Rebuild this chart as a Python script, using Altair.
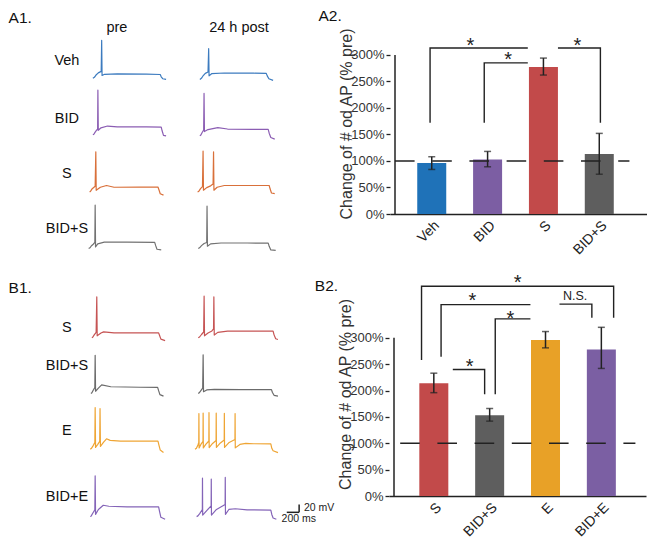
import altair as alt
import pandas as pd

FONT = "Liberation Sans"
INK = "#222222"

# ---------------- bar panels ----------------
A2_CATS = ["Veh", "BID", "S", "BID+S"]
A2_MEAN = [96, 103, 277, 113]
A2_LO = [84, 89, 262, 75]
A2_HI = [108, 118, 294, 152]
A2_COLORS = ["#1f72b8", "#7c5ea3", "#c24a4a", "#5e5e5e"]
A2_BRACKET_X = [[0.97, 0.97, 2.72], [1.94, 1.94, 2.72], [3.26, 4.02, 4.02]]
A2_BRACKET_Y = [[172, 313, 313], [172, 285, 285], [313, 313, 172]]
A2_STAR_X = [1.69, 2.37, 3.61]
A2_STAR_Y = [326, 298, 326]
A2_DASH = [0.342, 4.54]

B2_CATS = ["S", "BID+S", "E", "BID+E"]
B2_MEAN = [214, 153, 296, 278]
B2_LO = [196, 142, 281, 242]
B2_HI = [233, 166, 312, 320]
B2_COLORS = ["#c24a4a", "#5e5e5e", "#e8a127", "#7b5fa3"]
B2_BRACKET_X = [[0.78, 0.78, 4.22, 4.22], [1.13, 1.13, 2.73], [2.10, 2.10, 2.73],
                [1.34, 1.91, 1.91], [3.25, 3.83, 3.83]]
B2_BRACKET_Y = [[258, 398, 398, 338], [264, 363, 363], [193, 336, 336],
                [240, 240, 193], [364, 364, 338]]
B2_STAR_X = [2.50, 1.69, 2.37, 1.64]
B2_STAR_Y = [413, 379, 344, 253]
B2_NS_X = [3.53]
B2_NS_Y = [380]
B2_NS_TEXT = ["N.S."]
B2_DASH = [0.398, 4.61]

Y_TICKS = [0, 50, 100, 150, 200, 250, 300]
REF_LEVEL = 100

# ---------------- voltage traces (ms, mV) ----------------
veh_pre_t = [75, 98, 120, 158, 203, 210, 216, 255, 450, 900, 1110, 1125, 1148, 1200]
veh_pre_v = [-69.3, -68, -65.2, -61.8, -59.7, -16.2, -65.5, -63.8, -63.2, -63.6, -64.1, -67.3, -70, -71]
veh_post_t = [75, 98, 120, 158, 200, 210, 216, 255, 450, 900, 1095, 1110, 1135, 1200]
veh_post_v = [-71, -69.5, -66.5, -62.5, -60.5, -28, -66, -63, -62, -62.3, -62.5, -66, -70, -72.3]
bid_pre_t = [75, 90, 110, 135, 148, 152, 158, 200, 300, 450, 900, 1125, 1140, 1160, 1200]
bid_pre_v = [-69.3, -68.5, -65.5, -62.5, -61.5, -6.8, -63, -59.5, -57, -58.3, -58.3, -58.5, -64, -70, -70.7]
bid_post_t = [75, 90, 110, 133, 139, 145, 200, 350, 500, 900, 1125, 1140, 1165, 1225]
bid_post_v = [-70.7, -69.5, -66, -62.5, -11.4, -64.8, -62, -59.3, -61.2, -61.8, -61.8, -67, -73, -75.3]
s_pre_t = [25, 40, 65, 110, 120, 126, 190, 285, 400, 800, 1075, 1090, 1110, 1160]
s_pre_v = [-70, -69, -65.5, -62, -13.8, -67.8, -63.5, -61, -63.5, -63.2, -63.2, -67, -72.5, -74.5]
s_post_t = [40, 60, 85, 115, 124, 130, 180, 240, 278, 285, 291, 340, 450, 800, 1140, 1155, 1175, 1225]
s_post_v = [-70, -69, -65.5, -62.5, -12.9, -67.7, -64, -61.5, -58.8, -13.8, -67.7, -63.5, -61, -61, -61, -66, -71.5, -72.5]
bids_pre_t = [10, 30, 50, 80, 105, 110, 116, 150, 250, 600, 1025, 1040, 1060, 1125]
bids_pre_v = [-70, -69, -66.5, -64, -61.5, -9.3, -67.8, -63.5, -61, -61, -61.5, -66, -71, -72]
bids_post_t = [50, 70, 100, 140, 180, 185, 191, 240, 400, 800, 1125, 1140, 1165, 1240]
bids_post_v = [-70, -69, -66, -63, -61.5, -10.7, -66.8, -63.5, -62.3, -62.3, -62.5, -67, -72, -72.5]

b_s_pre_t = [60, 75, 95, 125, 135, 141, 200, 240, 400, 800, 1085, 1100, 1120, 1185]
b_s_pre_v = [-70, -69, -66, -62.5, -12.9, -67.3, -63.5, -61.8, -63.2, -63.2, -63.2, -67, -72, -74]
b_s_post_t = [50, 70, 100, 133, 140, 146, 200, 260, 285, 290, 296, 350, 500, 900, 1200, 1215, 1240, 1275]
b_s_post_v = [-70, -69, -65.5, -62, -11.9, -67.3, -63.5, -60.5, -57.7, -12.9, -66.3, -62.5, -60.8, -60.8, -60.8, -66, -71.5, -72.5]
b_bs_pre_t = [45, 60, 80, 105, 110, 116, 160, 210, 350, 800, 1070, 1085, 1105, 1160]
b_bs_pre_v = [-70, -69, -65.5, -61.5, -16.6, -66.8, -62.5, -58, -60.5, -61.2, -61.4, -66, -71.5, -73.7]
b_bs_post_t = [50, 65, 90, 118, 125, 131, 180, 300, 700, 1175, 1190, 1215, 1275]
b_bs_post_v = [-70, -69, -66, -62.5, -15.7, -67.5, -65, -64.2, -64.5, -64.5, -68.5, -72.5, -73.7]
b_e_pre_t = [35, 50, 75, 105, 110, 116, 150, 180, 185, 191, 240, 285, 340, 500, 800, 1075, 1090, 1110, 1160]
b_e_pre_v = [-70, -69, -65.5, -60.5, -11.5, -67.3, -63, -59, -12.9, -65.9, -60, -55.3, -57.5, -58.6, -58.6, -58.6, -64, -71, -74.5]
b_e_post_t = [0, 22, 45, 58, 60, 63, 90, 123, 125, 128, 165, 213, 215, 218, 270, 324, 326, 329,
              390, 449, 451, 454, 525, 614, 616, 619, 690, 780, 900, 1165, 1180, 1200, 1275]
b_e_post_v = [-70, -68.6, -63.8, -60.4, -20, -68, -63.2, -59, -19.3, -68, -63.2, -58.4, -18.6, -67.5, -61.8, -57.7, -19.3, -67.3,
              -61.1, -57, -19.6, -67.3, -60.4, -56.3, -20, -68, -63.2, -61.8, -62.2, -62.3, -68.6, -72, -74.6]
b_be_pre_t = [35, 50, 75, 105, 110, 116, 160, 235, 320, 600, 1085, 1100, 1120, 1185]
b_be_pre_v = [-70, -69, -65, -60.5, -13, -66.8, -60, -54.1, -55.5, -56.3, -56.3, -63, -71, -73.7]
b_be_post_t = [25, 45, 75, 113, 115, 118, 180, 248, 250, 253, 330, 463, 465, 468, 520, 620, 800, 1165, 1180, 1200, 1250]
b_be_post_v = [-70, -69, -65.5, -60, -16.2, -67.8, -61.5, -55, -17.5, -67.8, -60, -53.1, -15.2, -66.8, -60, -59, -60.5, -61, -67, -72, -73.7]

A1_LABELS = ["Veh", "BID", "S", "BID+S"]
A1_COLORS = ["#3c7bbf", "#8b5db3", "#d9703a", "#727272"]
A1_TRACES = [(veh_pre_t, veh_pre_v, veh_post_t, veh_post_v),
             (bid_pre_t, bid_pre_v, bid_post_t, bid_post_v),
             (s_pre_t, s_pre_v, s_post_t, s_post_v),
             (bids_pre_t, bids_pre_v, bids_post_t, bids_post_v)]
B1_LABELS = ["S", "BID+S", "E", "BID+E"]
B1_COLORS = ["#c65454", "#6b6b6b", "#efa534", "#8464b8"]
B1_TRACES = [(b_s_pre_t, b_s_pre_v, b_s_post_t, b_s_post_v),
             (b_bs_pre_t, b_bs_pre_v, b_bs_post_t, b_bs_post_v),
             (b_e_pre_t, b_e_pre_v, b_e_post_t, b_e_post_v),
             (b_be_pre_t, b_be_pre_v, b_be_post_t, b_be_post_v)]

# scale bar (ms, mV)
SB_T = [1410, 1600]
SB_T2 = [1600, 1600]
SB_V = [-64, -64]
SB_V2 = [-64, -53]
SB_TEXT = ["20 mV", "200 ms"]
SB_TEXT_T = [1675, 1595]
SB_TEXT_V = [-58.5, -73.7]
SB_TEXT_ALIGN = ["left", "center"]

# ---------------- layout constants ----------------
CELL_W = 82
CELL_H = 50
T_DOM = [0, 1260]
V_DOM = [-76, -6]
V_DOM_TALL = [-76, 10.1]
CELL_H_TALL = 61.5


def trace_chart(t, v, color, ydom, h, xaxis=None, yaxis=None):
    df = pd.DataFrame({"t": t, "v": v, "k": list(range(len(t)))})
    return alt.Chart(df).mark_line(color=color, strokeWidth=1.2, strokeJoin="round").encode(
        x=alt.X("t:Q", scale=alt.Scale(domain=T_DOM, nice=False, zero=False), axis=xaxis),
        y=alt.Y("v:Q", scale=alt.Scale(domain=ydom, nice=False, zero=False), axis=yaxis),
        order="k:Q",
    ).properties(width=CELL_W, height=h)


def row_axis(label, ty):
    return alt.Axis(title=label, labels=False, ticks=False, domain=False, grid=False,
                    titleAngle=0, titleAlign="center", titleBaseline="middle",
                    titleX=-21.6, titleY=ty, titleFontSize=14.5, titleFontWeight="normal",
                    titleColor="#111111")


def head_axis(label, tx):
    return alt.Axis(orient="top", title=label, labels=False, ticks=False, domain=False, grid=False,
                    titleAngle=0, titleAlign="center", titleBaseline="middle",
                    titleX=tx, titleY=-5.7, titleFontSize=14.5, titleFontWeight="normal",
                    titleColor="#111111")


def panel_title(text, dx, dy):
    return alt.TitleParams(text=text, anchor="start", frame="group", dx=dx, dy=dy,
                           fontSize=15.5, fontWeight="normal", color="#111111", offset=0)


def scale_bar_layers(ydom):
    xs = alt.Scale(domain=T_DOM, nice=False, zero=False)
    ys = alt.Scale(domain=ydom, nice=False, zero=False)
    bars = alt.Chart(pd.DataFrame({"t": SB_T, "t2": SB_T2, "v": SB_V, "v2": SB_V2})).mark_rule(
        color=INK, strokeWidth=1.5).encode(
        x=alt.X("t:Q", scale=xs, axis=None), x2="t2:Q",
        y=alt.Y("v:Q", scale=ys, axis=None), y2="v2:Q")
    txt = alt.Chart(pd.DataFrame({"t": SB_TEXT_T, "v": SB_TEXT_V, "s": SB_TEXT, "a": SB_TEXT_ALIGN}))
    left = txt.transform_filter("datum.a == 'left'").mark_text(
        align="left", baseline="middle", fontSize=10.5, color=INK).encode(
        x=alt.X("t:Q", scale=xs, axis=None), y=alt.Y("v:Q", scale=ys, axis=None), text="s:N")
    center = txt.transform_filter("datum.a == 'center'").mark_text(
        align="center", baseline="middle", fontSize=10.5, color=INK).encode(
        x=alt.X("t:Q", scale=xs, axis=None), y=alt.Y("v:Q", scale=ys, axis=None), text="s:N")
    return [bars, left, center]


def trace_block(labels, colors, traces, label_y, title, heads, tall_last, spacing):
    cells = []
    for i, (lab, col, tr) in enumerate(zip(labels, colors, traces)):
        last = tall_last and i == len(labels) - 1
        ydom = V_DOM_TALL if last else V_DOM
        h = CELL_H_TALL if last else CELL_H
        pre = trace_chart(tr[0], tr[1], col, ydom, h,
                          xaxis=head_axis("pre", 28.4) if (heads and i == 0) else None,
                          yaxis=row_axis(lab, label_y[i]))
        post = trace_chart(tr[2], tr[3], col, ydom, h,
                           xaxis=head_axis("24 h post", 43.5) if (heads and i == 0) else None)
        if last:
            post = alt.layer(post, *scale_bar_layers(ydom)).properties(width=CELL_W, height=h)
        if i == 0:
            pre = pre.properties(title=panel_title(title[0], title[1], title[2]))
        cells += [pre, post]
    return alt.concat(*cells, columns=2, spacing=alt.RowColnumber(row=spacing, column=25),
                      bounds="flush")


def bar_panel(cats, mean, lo, hi, colors, bx, by, sx, sy, nsx, nsy, nstext, xdom, ymax, height, dash, title):
    labexpr = "[" + ",".join("'" + c + "'" for c in cats) + "][round(datum.value) - 1]"
    xs = alt.Scale(domain=xdom, nice=False, zero=False)
    ys = alt.Scale(domain=[0, ymax], nice=False, zero=False)
    xaxis = alt.Axis(values=[1, 2, 3, 4], labelExpr=labexpr, title=None, ticks=False, grid=False,
                     labelAngle=-45, labelFontSize=14, labelColor=INK, labelPadding=4,
                     domainColor=INK, domainWidth=1.5)
    yaxis = alt.Axis(values=Y_TICKS, labelExpr="datum.value + '%'", title="Change of # od AP (% pre)",
                     grid=False, domain=False, tickSize=4, tickWidth=1.3, tickColor=INK,
                     labelFontSize=13, labelColor="#333333", labelPadding=2,
                     titleFontSize=16, titleFontWeight="normal", titleColor="#333333",
                     titleX=-44, titleBaseline="middle")

    def X(f):
        return alt.X(f + ":Q", scale=xs, axis=xaxis)

    def Y(f):
        return alt.Y(f + ":Q", scale=ys, axis=yaxis)

    pos = [1, 2, 3, 4]
    bdf = pd.DataFrame({"x": pos, "y": mean, "lo": lo, "hi": hi, "cat": cats, "col": colors})
    bars = alt.Chart(bdf).mark_bar(size=29).encode(
        x=X("x"), y=Y("y"), color=alt.Color("col:N", scale=None, legend=None))
    dash_df = pd.DataFrame({"x": [dash[0]], "x2": [dash[1]], "y": [REF_LEVEL]})
    dashed = alt.Chart(dash_df).mark_rule(color=INK, strokeWidth=1.5, strokeDash=[19.6, 17.6]).encode(
        x=X("x"), x2="x2:Q", y=Y("y"))
    err = alt.Chart(bdf).mark_rule(color=INK, strokeWidth=1.5).encode(x=X("x"), y=Y("lo"), y2="hi:Q")
    cap_lo = alt.Chart(bdf).mark_tick(color=INK, orient="horizontal", size=7, thickness=1.5).encode(
        x=X("x"), y=Y("lo"))
    cap_hi = alt.Chart(bdf).mark_tick(color=INK, orient="horizontal", size=7, thickness=1.5).encode(
        x=X("x"), y=Y("hi"))
    axis_df = pd.DataFrame({"x": [xdom[0]], "y": [0], "y2": [Y_TICKS[-1]]})
    yline = alt.Chart(axis_df).mark_rule(color=INK, strokeWidth=1.5).encode(x=X("x"), y=Y("y"), y2="y2:Q")
    rows = []
    for gi, (xx, yy) in enumerate(zip(bx, by)):
        for k, (a, b) in enumerate(zip(xx, yy)):
            rows.append({"g": gi, "k": k, "x": a, "y": b})
    brackets = alt.Chart(pd.DataFrame(rows)).mark_line(color=INK, strokeWidth=1.4).encode(
        x=X("x"), y=Y("y"), detail="g:N", order="k:Q")
    stars = alt.Chart(pd.DataFrame({"x": sx, "y": sy, "s": ["*"] * len(sx)})).mark_text(
        fontSize=20, baseline="middle", dy=4.5, color=INK).encode(x=X("x"), y=Y("y"), text="s:N")
    layers = [bars, dashed, err, cap_lo, cap_hi, yline, brackets, stars]
    if nsx:
        ns = alt.Chart(pd.DataFrame({"x": nsx, "y": nsy, "s": nstext})).mark_text(
            fontSize=12.5, baseline="middle", color=INK).encode(x=X("x"), y=Y("y"), text="s:N")
        layers.append(ns)
    return alt.layer(*layers).properties(width=257, height=height, title=title)


A1 = trace_block(A1_LABELS, A1_COLORS, A1_TRACES, [27.8, 29.2, 27.3, 25.6],
                 ("A1.", -79.4, 7.2), True, False, 6.6)
B1 = trace_block(B1_LABELS, B1_COLORS, B1_TRACES, [35.4, 17.5, 26.9, 36.6],
                 ("B1.", -79.4, 4), False, True, 5.8)

A2 = bar_panel(A2_CATS, A2_MEAN, A2_LO, A2_HI, A2_COLORS, A2_BRACKET_X, A2_BRACKET_Y,
               A2_STAR_X, A2_STAR_Y, [], [], [], [0.342, 4.765], 341.3, 181, A2_DASH,
               panel_title("A2.", -71.5, -3))
B2 = bar_panel(B2_CATS, B2_MEAN, B2_LO, B2_HI, B2_COLORS, B2_BRACKET_X, B2_BRACKET_Y,
               B2_STAR_X, B2_STAR_Y, B2_NS_X, B2_NS_Y, B2_NS_TEXT, [0.287, 4.71], 387, 204, B2_DASH,
               panel_title("B2.", -74.2, 21.5))

top = alt.hconcat(A1, A2, spacing=41)
bottom = alt.hconcat(B1, B2, spacing=-21)
chart = alt.vconcat(top, bottom, spacing=15).properties(
    padding=0
).configure(font=FONT).configure_view(stroke=None)

chart.save("out.html", embed_options={"renderer": "svg", "actions": False})
